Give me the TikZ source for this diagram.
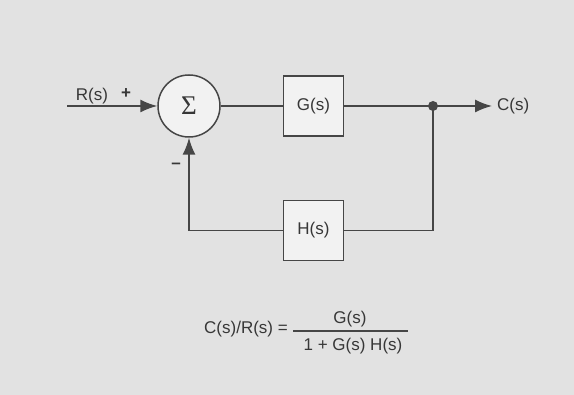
\documentclass[tikz,border=0pt]{standalone}
\usepackage{fontspec}
\setmainfont{Liberation Sans}
\newfontfamily\sigmafont{Liberation Serif}
\usetikzlibrary{arrows.meta,positioning}
\definecolor{paper}{RGB}{226,226,226}
\definecolor{boxfill}{RGB}{242,242,242}
\definecolor{inkline}{RGB}{70,70,70}
\definecolor{inktext}{RGB}{55,55,55}
\tikzset{
    loopblock/.style={draw=inkline, fill=boxfill, line width=1.5pt, minimum width=60pt, minimum height=60pt, inner sep=0pt, font=\fontsize{17}{20}\selectfont, text=inktext},
    loopsum/.style={draw=inkline, fill=boxfill, line width=1.5pt, circle, minimum size=62pt, inner sep=0pt, font=\sigmafont\fontsize{27}{30}\selectfont, text=inktext},
    looparrow/.style={-{Latex[length=17pt, width=13pt]}, line width=1.5pt, draw=inkline},
    loopline/.style={line width=1.5pt, draw=inkline},
    loopnote/.style={font=\fontsize{17}{20}\selectfont, text=inktext, inner sep=1pt}
}
\begin{document}
\begin{tikzpicture}[x=1pt, y=1pt, node distance=62pt and 62pt]
    \fill[paper] (0,0) rectangle (574,395);
    \useasboundingbox (0,0) rectangle (574,395);
    \node[loopsum] (sum) at (189,289) {Σ};
    \node[loopblock, right=of sum] (gblock) {G(s)};
    \node[loopblock, below=63pt of gblock] (hblock) {H(s)};
    \coordinate (input) at (67,289);
    \coordinate (branch) at (433,289);
    \coordinate (output) at (492,289);
    \node[loopnote, right=4pt of output] (cout) {C(s)};
    \node[loopnote] (rin) at (92,299) {R(s)};
    \node[loopnote] (plus) at (126,301) {\textbf{+}};
    \node[loopnote] (minus) at (176,229) {\textbf{\textendash}};
    \draw[looparrow] (input) -- (sum);
    \draw[loopline] (sum) -- (gblock);
    \draw[looparrow] (gblock) -- (output);
    \fill[inkline] (branch) circle (5pt);
    \draw[loopline] (branch) |- (hblock);
    \draw[looparrow] (hblock) -| (sum);
    % closed-loop transfer function
    \node[loopnote] (ratio) at (246,66) {C(s)/R(s) =};
    \node[loopnote] (num) at (350,76) {G(s)};
    \node[loopnote] (den) at (353,49) {1 + G(s) H(s)};
    \coordinate (barleft) at (293,64);
    \coordinate (barright) at (408,64);
    \draw[loopline] (barleft) -- (barright);
\end{tikzpicture}
\end{document}
